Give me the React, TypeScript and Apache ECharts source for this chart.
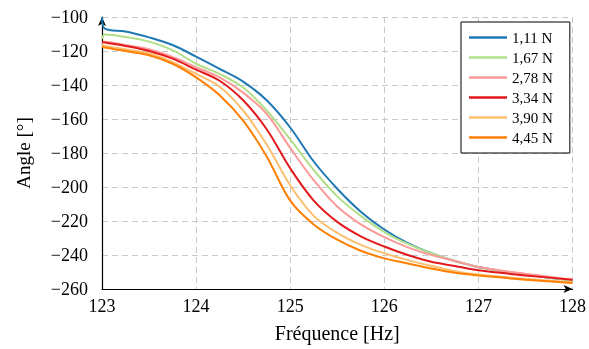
import React, { useEffect, useRef } from "react";
import * as echarts from "echarts";

const freqs = [123, 123.03, 123.25, 123.5, 123.75, 124, 124.25, 124.5, 124.75, 125, 125.25, 125.5, 125.75, 126, 126.25, 126.5, 126.75, 127, 127.5, 128];

const s111 = [-100, -106.8, -108.5, -112, -116.5, -123.3, -130.5, -138, -149, -165, -185, -201, -214.5, -225, -233, -239, -243.5, -247, -251.5, -255];
const s167 = [-113, -110.3, -111.8, -114.5, -119.5, -127.5, -133.5, -141.5, -155, -172, -190, -205.5, -217, -226.5, -233.5, -239, -243.5, -247, -251.5, -255];
const s278 = [-115.5, -114.5, -116.5, -119, -123.5, -129.5, -135.5, -144.5, -157, -177, -196, -211.5, -222, -229.5, -235.5, -240, -243.5, -247, -251, -254.5];
const s334 = [-114.5, -115, -117, -120, -124.5, -131, -137.5, -149, -166, -189, -208, -220.5, -229, -235, -240, -244, -246.5, -249, -252, -254.5];
const s390 = [-116.5, -117, -119, -121.5, -126.5, -133.5, -141, -155, -175, -199, -217, -227, -234, -239, -243, -246.5, -249.5, -251.5, -254, -256];
const s445 = [-117.5, -118, -120, -122.5, -127.5, -135.5, -146, -161, -182, -208, -222, -231, -237.5, -242, -245, -248, -250.5, -252, -254.5, -256.5];

const seriesNames = ["1,11 N", "1,67 N", "2,78 N", "3,34 N", "3,90 N", "4,45 N"];
const seriesValues = [s111, s167, s278, s334, s390, s445];
const seriesColors = ["#1f78b4", "#b2df8a", "#fb9a99", "#e31a1c", "#fdbf6f", "#ff7f00"];

const xTicks = { min: 123, max: 128, interval: 1 };
const yTicks = { min: -260, max: -100, interval: 20 };

const FONT = "Liberation Serif";

export default function App() {
  const ref = useRef<HTMLDivElement>(null);
  useEffect(() => {
    if (!ref.current) return;
    const chart = echarts.init(ref.current, undefined, { renderer: "svg" });
    const dashed = { show: true, lineStyle: { color: "#c8c8c8", type: [6, 4] as any, width: 1 } };
    chart.setOption({
      animation: false,
      textStyle: { fontFamily: FONT },
      grid: { left: 102, right: 14, top: 17, bottom: 60, containLabel: false },
      legend: {
        orient: "vertical",
        left: 461,
        top: 22,
        padding: [8, 17, 8, 8],
        itemWidth: 38,
        itemHeight: 2.5,
        itemGap: 5,
        icon: "rect",
        borderColor: "#000",
        borderWidth: 1,
        backgroundColor: "#fff",
        textStyle: { fontFamily: FONT, fontSize: 15, color: "#000", lineHeight: 15 },
        data: seriesNames,
      },
      xAxis: {
        type: "value",
        min: xTicks.min,
        max: xTicks.max,
        interval: xTicks.interval,
        name: "Fréquence [Hz]",
        nameLocation: "middle",
        nameGap: 34,
        nameTextStyle: { fontFamily: FONT, fontSize: 20, color: "#000" },
        axisLine: { show: true, lineStyle: { color: "#000", width: 1.2 }, symbol: ["none", "arrow"], symbolSize: [6, 9] },
        axisTick: { show: false },
        axisLabel: { fontFamily: FONT, fontSize: 18, color: "#000", margin: 8 },
        splitLine: dashed,
      },
      yAxis: {
        type: "value",
        min: yTicks.min,
        max: yTicks.max,
        interval: yTicks.interval,
        name: "Angle [°]",
        nameLocation: "middle",
        nameGap: 69,
        nameRotate: 90,
        nameTextStyle: { fontFamily: FONT, fontSize: 19, color: "#000" },
        axisLine: { show: true, lineStyle: { color: "#000", width: 1.2 }, symbol: ["none", "arrow"], symbolSize: [6, 9] },
        axisTick: { show: false },
        axisLabel: {
          fontFamily: FONT,
          fontSize: 18,
          color: "#000",
          margin: 14,
          formatter: (v: number) => String(v).replace("-", "\u2212"),
        },
        splitLine: dashed,
      },
      series: seriesNames.map((name, i) => ({
        name,
        type: "line",
        data: freqs.map((f, j) => [f, seriesValues[i][j]]),
        showSymbol: false,
        smooth: 0.35,
        lineStyle: { color: seriesColors[i], width: 2 },
        itemStyle: { color: seriesColors[i] },
        z: 2 + i,
      })),
    });
    return () => chart.dispose();
  }, []);
  return <div ref={ref} style={{ position: "fixed", left: 0, top: 0, width: 589, height: 349 }} />;
}
